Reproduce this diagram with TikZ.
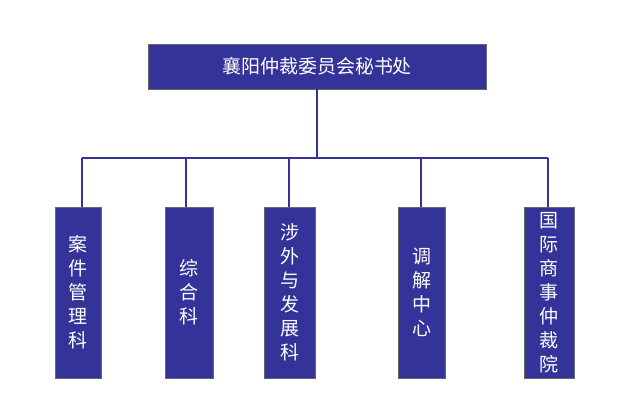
\documentclass[tikz,border=0pt]{standalone}
\usepackage{fontspec}
\newfontfamily\cjk{Noto Sans CJK SC}
\definecolor{boxblue}{HTML}{333399}
\begin{document}
\begin{tikzpicture}[x=1pt,y=-1pt,
  box/.style={draw=black!60,fill=boxblue,text=white,inner sep=0pt,font=\cjk\fontsize{19}{24}\selectfont,align=center},
  link/.style={draw=boxblue,line width=1.4pt}]
\useasboundingbox (0,0) rectangle (630,417);
\node[box,minimum width=338,minimum height=45,font=\cjk\fontsize{19}{24}\selectfont] (top) at (317,66.5) {襄阳仲裁委员会秘书处};
\node[box,minimum width=46,minimum height=171] (b1) at (78,292.5) {案\\件\\管\\理\\科};
\node[box,minimum width=48,minimum height=171] (b2) at (189,292.5) {综\\合\\科};
\node[box,minimum width=51,minimum height=171] (b3) at (289.5,292.5) {涉\\外\\与\\发\\展\\科};
\node[box,minimum width=47,minimum height=171] (b4) at (421.5,292.5) {调\\解\\中\\心};
\node[box,minimum width=50,minimum height=171] (b5) at (549,292.5) {国\\际\\商\\事\\仲\\裁\\院};
\coordinate (j) at (317,158);
\coordinate (l) at (82,158);
\coordinate (r) at (548,158);
\draw[link] (top.south) -- (j);
\draw[link] (l) -- (r);
\draw[link] (82,158) -- (82,207);
\draw[link] (186,158) -- (186,207);
\draw[link] (289,158) -- (289,207);
\draw[link] (421,158) -- (421,207);
\draw[link] (548,158) -- (548,207);
\end{tikzpicture}
\end{document}
